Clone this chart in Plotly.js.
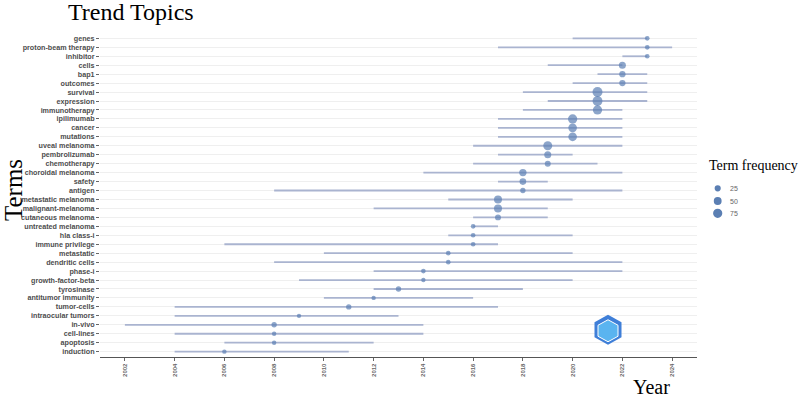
<!DOCTYPE html>
<html>
<head>
<meta charset="utf-8">
<script src="https://cdn.plot.ly/plotly-3.0.1.min.js"></script>
<style>html,body{margin:0;padding:0;background:#fff;}#chart{width:800px;height:401px;}</style>
</head>
<body>
<div id="chart"></div>
<script>
// Terms listed top to bottom
const terms = ["genes","proton-beam therapy","inhibitor","cells","bap1","outcomes","survival","expression","immunotherapy","ipilimumab","cancer","mutations","uveal melanoma","pembrolizumab","chemotherapy","choroidal melanoma","safety","antigen","metastatic melanoma","malignant-melanoma","cutaneous melanoma","untreated melanoma","hla class-i","immune privilege","metastatic","dendritic cells","phase-i","growth-factor-beta","tyrosinase","antitumor immunity","tumor-cells","intraocular tumors","in-vivo","cell-lines","apoptosis","induction"];
const yearQ1 = [2020,2017,2022,2019,2021,2020,2018,2019,2018,2017,2017,2017,2016,2017,2016,2014,2017,2008,2015,2012,2016,2016,2015,2006,2010,2008,2012,2009,2012,2010,2004,2004,2002,2004,2006,2004];
const yearMedian = [2023,2023,2023,2022,2022,2022,2021,2021,2021,2020,2020,2020,2019,2019,2019,2018,2018,2018,2017,2017,2017,2016,2016,2016,2015,2015,2014,2014,2013,2012,2011,2009,2008,2008,2008,2006];
const yearQ3 = [2023,2024,2023,2022,2023,2023,2023,2023,2022,2022,2022,2022,2022,2020,2021,2022,2019,2022,2020,2019,2019,2017,2020,2017,2020,2022,2022,2020,2018,2016,2017,2013,2014,2014,2012,2011];
const termFreq = [8,8,8,37,27,27,90,88,76,76,64,64,70,37,23,42,32,15,53,53,23,8,8,8,8,8,8,5,15,5,15,5,15,6,6,6];
const legendFreq = [25,50,75];
const xTickYears = [2002,2004,2006,2008,2010,2012,2014,2016,2018,2020,2022,2024];

function sizeScale(f){ return Math.sqrt(14 + 0.95*f); }

const segX = [], segY = [];
terms.forEach((t,i)=>{ segX.push(yearQ1[i], yearQ3[i], null); segY.push(t, t, null); });

const dotColor = '#5b7fb3';
const traces = [
  {type:'scatter', mode:'lines', x:segX, y:segY, line:{color:'#aab4d0', width:1.8}, hoverinfo:'skip', showlegend:false},
  {type:'scatter', mode:'markers', x:yearMedian, y:terms, marker:{color:dotColor, size:termFreq.map(sizeScale), line:{width:0}}, showlegend:false}
];

const L = 100, R = 697, T = 32.6, B = 357.3;
const px = v => (v - L)/(R - L);
const py = v => (B - v)/(B - T);

const annotations = [
  {text:'Terms', xref:'paper', yref:'paper', x:px(13), y:py(190), xanchor:'center', yanchor:'middle', textangle:-90, showarrow:false, font:{family:'Liberation Serif', size:25, color:'#000'}},
  {text:'Year', xref:'paper', yref:'paper', x:px(651), y:py(387), xanchor:'center', yanchor:'middle', showarrow:false, font:{family:'Liberation Serif', size:20, color:'#000'}},
  {text:'Term frequency', xref:'paper', yref:'paper', x:px(707), y:py(165), xanchor:'left', yanchor:'middle', showarrow:false, font:{family:'Liberation Serif', size:14, color:'#000'}}
];
const legendY = [188.3, 201, 213.3];
const shapes = [];
legendFreq.forEach((f,i)=>{
  const r = sizeScale(f)/2;
  shapes.push({type:'circle', xref:'paper', yref:'paper', xsizemode:'pixel', ysizemode:'pixel', xanchor:px(717.7), yanchor:py(legendY[i]), x0:-r, x1:r, y0:-r, y1:r, fillcolor:dotColor, line:{width:0}});
  annotations.push({text:String(f), xref:'paper', yref:'paper', x:px(728), y:py(legendY[i]), xanchor:'left', yanchor:'middle', showarrow:false, font:{family:'Liberation Sans', size:7, color:'#666'}});
});
// logo-like hexagon mark
function hexPath(rx, ry){ return `M0,${ry} L${rx},${ry/2} L${rx},${-ry/2} L0,${-ry} L${-rx},${-ry/2} L${-rx},${ry/2} Z`; }
shapes.push({type:'path', xref:'paper', yref:'paper', xsizemode:'pixel', ysizemode:'pixel', xanchor:px(608), yanchor:py(330), path:hexPath(13.5,15), fillcolor:'#3f7fd8', line:{width:0}});
shapes.push({type:'path', xref:'paper', yref:'paper', xsizemode:'pixel', ysizemode:'pixel', xanchor:px(608), yanchor:py(331), path:hexPath(10,11), fillcolor:'#5ab4f0', line:{color:'#ffffff', width:1}});

const layout = {
  width:800, height:401,
  margin:{l:100, r:103, t:33, b:44, pad:0},
  paper_bgcolor:'#fff', plot_bgcolor:'#fff',
  title:{text:'Trend Topics', xref:'container', yref:'container', x:68/800, xanchor:'left', y:1-12/401, yanchor:'middle', font:{family:'Liberation Serif', size:24, color:'#000'}},
  xaxis:{range:[2001,2025], tickmode:'array', tickvals:xTickYears, ticktext:xTickYears.map(String), tickangle:-90,
         tickfont:{family:'Liberation Sans', size:6, color:'#666', weight:'bold'}, ticks:'outside', ticklen:3, tickcolor:'#666',
         showline:true, linecolor:'#555', linewidth:1.2, showgrid:false, zeroline:false, fixedrange:true},
  yaxis:{type:'category', categoryorder:'array', categoryarray:terms.slice().reverse(), range:[-0.6, terms.length-0.4], autorange:false,
         tickmode:'array', tickvals:terms, ticktext:terms,
         tickfont:{family:'Liberation Sans', size:7.2, color:'#4d4d4d', weight:'bold'}, ticks:'outside', ticklen:3, tickcolor:'#666',
         showgrid:true, gridcolor:'#efefef', gridwidth:1, showline:false, zeroline:false, fixedrange:true},
  showlegend:false,
  annotations:annotations,
  shapes:shapes
};
Plotly.newPlot('chart', traces, layout, {displayModeBar:false, staticPlot:true});
</script>
</body>
</html>
